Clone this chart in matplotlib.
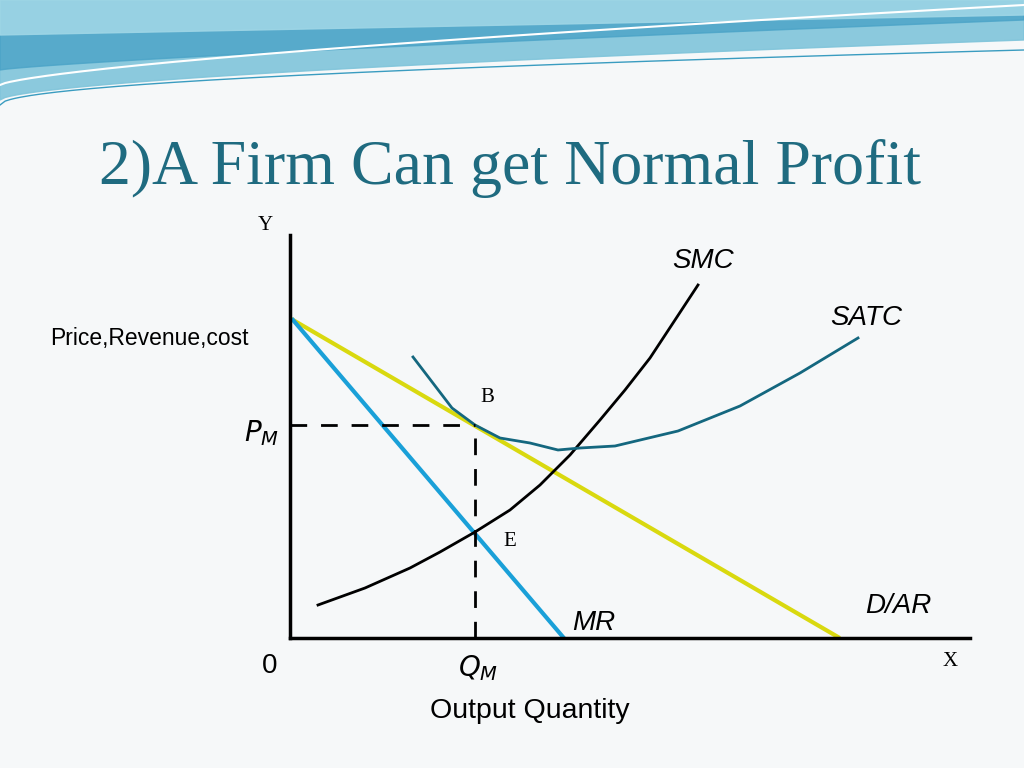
import matplotlib
matplotlib.use("Agg")
import matplotlib.pyplot as plt
import numpy as np

# Data (in diagram units: x = quantity, y = price), origin at bottom-left
smc_x = [28, 75, 120, 150, 185, 220, 250, 280, 310, 335, 360, 385, 408]
smc_y = [33, 50, 70, 86, 106, 128, 153, 183, 218, 248, 280, 318, 353]
satc_x = [123, 162, 185, 210, 240, 268, 290, 325, 388, 450, 510, 568]
satc_y = [281, 230, 213, 200, 195, 188, 190, 192, 207, 232, 265, 300]
dar_x = [3, 548]
dar_y = [318, 1]
mr_x = [3, 273]
mr_y = [318, 1]
qm = 185
pm = 213

fig = plt.figure(figsize=(10.24, 7.68), dpi=100)
fig.patch.set_facecolor("#f6f8f9")

# decorative header waves
bg = fig.add_axes([0, 0, 1, 1])
bg.set_xlim(0, 1024); bg.set_ylim(768, 0); bg.axis("off")
xs = np.linspace(0, 1024, 200)
bg.fill_between(xs, 0, 100 - 60 * (xs / 1024) ** 0.6, color="#7fc4da", alpha=0.9)
bg.fill_between(xs, 0, 70 - 50 * (xs / 1024) ** 0.8, color="#4aa3c7", alpha=0.8)
bg.fill_between(xs, 0, 35 - 20 * (xs / 1024), color="#9fd6e6", alpha=0.9)
bg.plot(xs, 105 - 55 * (xs / 1024) ** 0.5, color="#3a9cc0", lw=1)
bg.plot(xs, 85 - 80 * (xs / 1024) ** 0.7, color="#ffffff", lw=1.5)

fig.text(510 / 1024, 1 - 168 / 768, "2)A Firm Can get Normal Profit", ha="center", va="center",
         fontsize=46, color="#1f6b80", family="Liberation Serif")

ax = fig.add_axes([290 / 1024, 130 / 768, 680 / 1024, 403 / 768])
ax.set_xlim(0, 680); ax.set_ylim(0, 403)
ax.patch.set_alpha(0)
for s in ["top", "right"]:
    ax.spines[s].set_visible(False)
for s in ["left", "bottom"]:
    ax.spines[s].set_linewidth(2.5)
ax.set_xticks([]); ax.set_yticks([])

ax.plot(dar_x, dar_y, color="#d9d90f", lw=3)
ax.plot(mr_x, mr_y, color="#1aa0d8", lw=3)
ax.plot(smc_x, smc_y, color="black", lw=2)
ax.plot(satc_x, satc_y, color="#14677f", lw=2)
ax.plot([0, qm], [pm, pm], "k--", lw=2, dashes=(6, 5))
ax.plot([qm, qm], [0, pm], "k--", lw=2, dashes=(6, 5))

def t(x, y, s, **kw):
    fig.text(x / 1024, 1 - y / 768, s, ha="center", va="center", **kw)

t(265, 226, "Y", fontsize=15, family="Liberation Serif")
t(950, 661, "X", fontsize=15, family="Liberation Serif")
t(703, 261, "SMC", fontsize=20, style="italic", family="Liberation Sans")
t(866, 318, "SATC", fontsize=20, style="italic", family="Liberation Sans")
t(898, 606, "D/AR", fontsize=20, style="italic", family="Liberation Sans")
t(594, 623, "MR", fontsize=20, style="italic", family="Liberation Sans")
t(149, 338, "Price,Revenue,cost", fontsize=16.5, family="Liberation Sans")
t(487, 397, "B", fontsize=15, family="Liberation Serif")
t(510, 542, "E", fontsize=15, family="Liberation Serif")
t(262, 433, r"$P_M$", fontsize=20, family="Liberation Sans")
t(270, 666, "0", fontsize=20, family="Liberation Sans")
t(478, 668, r"$Q_M$", fontsize=20)
t(530, 711, "Output Quantity", fontsize=20.5, family="Liberation Sans")

fig.savefig("out.png", dpi=100, facecolor=fig.get_facecolor())
